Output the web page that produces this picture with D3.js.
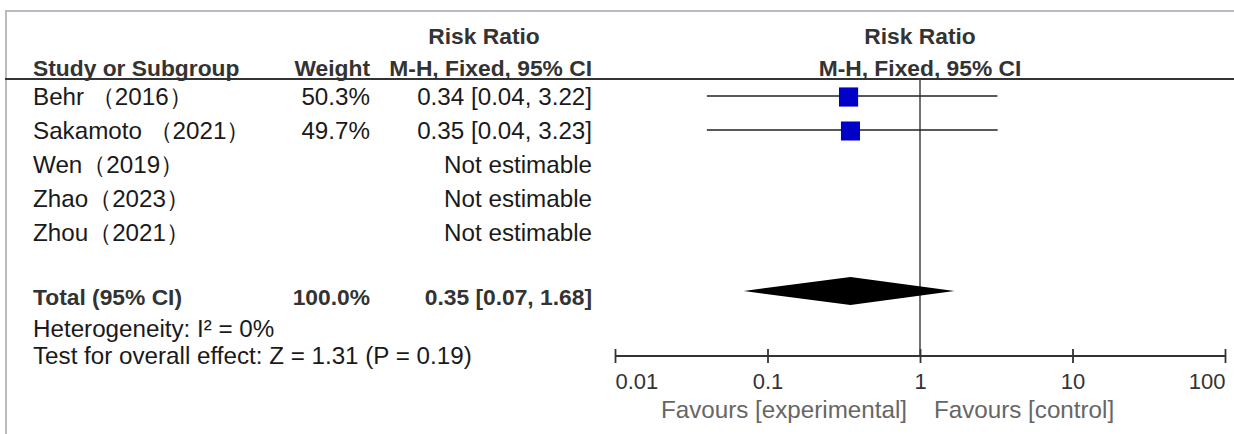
<!DOCTYPE html>
<html>
<head>
<meta charset="utf-8">
<script src="https://cdn.jsdelivr.net/npm/d3@7"></script>
<style>
  body { margin: 0; background: #fff; }
  svg { display: block; font-family: "Liberation Sans", Arial, sans-serif; }
</style>
</head>
<body>
<svg id="forest"></svg>
<script>
// forest plot data
var studies = ["Behr （2016）", "Sakamoto （2021）", "Wen（2019）", "Zhao（2023）", "Zhou（2021）"];
var weights = [50.3, 49.7, null, null, null];
var estimates = [0.34, 0.35, null, null, null];
var lowers = [0.04, 0.04, null, null, null];
var uppers = [3.22, 3.23, null, null, null];

var totalLabel = "Total (95% CI)";
var totalWeight = 100.0;
var totalEst = 0.35, totalLo = 0.07, totalHi = 1.68;
var heterogeneity = "Heterogeneity: I² = 0%";
var overallTest = "Test for overall effect: Z = 1.31 (P = 0.19)";

var tickVals = [0.01, 0.1, 1, 10, 100];
var tickLabels = ["0.01", "0.1", "1", "10", "100"];
var favourLeft = "Favours [experimental]";
var favourRight = "Favours [control]";

var width = 1234, height = 434;
var fs = 24.2, fsBold = 22.8, fsTick = 22;

var svg = d3.select('svg#forest')
    .attr('width', width)
    .attr('height', height);

svg.append('rect').attr('width', width).attr('height', height).attr('fill', '#fff');

// frame
svg.append('line').attr('x1', 5).attr('x2', width).attr('y1', 11).attr('y2', 11)
    .style('stroke', '#b8bcc2').style('stroke-width', 2);
svg.append('line').attr('x1', 6).attr('x2', 6).attr('y1', 11).attr('y2', height)
    .style('stroke', '#b8bcc2').style('stroke-width', 2);

var x = d3.scaleLog().domain([0.01, 100]).range([615, 1225]);
var rowY = d3.scaleLinear().domain([0, 1]).range([97, 131]);

var colName = 33, colWeight = 370, colCI = 592;
var axisY = 356, headerLineY = 79;

function txt(s, xx, yy, anchor, opts){
    opts = opts || {};
    return svg.append('text')
        .attr('x', xx).attr('y', yy).attr('dy', '0.35em')
        .style('text-anchor', anchor)
        .style('font-size', (opts.size || (opts.bold ? fsBold : fs)) + 'px')
        .style('font-weight', opts.bold ? 'bold' : 'normal')
        .style('fill', opts.color || '#1a1a1a')
        .text(s);
}

// headers
txt("Risk Ratio", 484, 36, 'middle', {bold: true, color: '#333'});
txt("Study or Subgroup", colName, 68, 'start', {bold: true, color: '#333'});
txt("Weight", colWeight, 68, 'end', {bold: true, color: '#333'});
txt("M-H, Fixed, 95% CI", colCI, 68, 'end', {bold: true, color: '#333'});
txt("Risk Ratio", x(1), 36, 'middle', {bold: true, color: '#333'});
txt("M-H, Fixed, 95% CI", x(1), 68, 'middle', {bold: true, color: '#333'});

svg.append('line').attr('x1', 5).attr('x2', width).attr('y1', headerLineY).attr('y2', headerLineY)
    .style('stroke', '#333').style('stroke-width', 2);

// line of no effect
svg.append('line').attr('x1', x(1)).attr('x2', x(1)).attr('y1', headerLineY).attr('y2', axisY)
    .style('stroke', '#444').style('stroke-width', 1.5);

// study rows
var rows = studies.map(function(s, i){
    return {name: s, w: weights[i], est: estimates[i], lo: lowers[i], hi: uppers[i], y: rowY(i)};
});

rows.forEach(function(d){
    txt(d.name, colName, d.y, 'start');
    if(d.w !== null) txt(d.w.toFixed(1) + '%', colWeight, d.y, 'end');
    var ci = d.est === null ? 'Not estimable'
        : d.est.toFixed(2) + ' [' + d.lo.toFixed(2) + ', ' + d.hi.toFixed(2) + ']';
    txt(ci, colCI, d.y, 'end');
});

var sq = d3.scaleSqrt().domain([0, 100]).range([0, 27]);
var est = rows.filter(function(d){ return d.est !== null; });

svg.append('g').selectAll('line')
    .data(est).enter().append('line')
    .attr('x1', function(d){ return x(d.lo); })
    .attr('x2', function(d){ return x(d.hi); })
    .attr('y1', function(d){ return d.y - 1; })
    .attr('y2', function(d){ return d.y - 1; })
    .style('stroke', '#222').style('stroke-width', 1.6);

svg.append('g').selectAll('rect')
    .data(est).enter().append('rect')
    .attr('x', function(d){ return x(d.est) - sq(d.w) / 2; })
    .attr('y', function(d){ return d.y - sq(d.w) / 2; })
    .attr('width', function(d){ return sq(d.w); })
    .attr('height', function(d){ return sq(d.w); })
    .style('fill', '#0000c8');

// total
var totalY = 297;
txt(totalLabel, colName, totalY, 'start', {bold: true, color: '#333'});
txt(totalWeight.toFixed(1) + '%', colWeight, totalY, 'end', {bold: true, color: '#333'});
txt(totalEst.toFixed(2) + ' [' + totalLo.toFixed(2) + ', ' + totalHi.toFixed(2) + ']', colCI, totalY, 'end', {bold: true, color: '#333'});

var dy = 291, dh = 14;
svg.append('path')
    .attr('d', d3.line()([
        [x(totalLo), dy], [x(totalEst), dy - dh], [x(totalHi), dy], [x(totalEst), dy + dh]
    ]) + 'Z')
    .style('fill', '#000');

txt(heterogeneity, colName, 329, 'start');
txt(overallTest, colName, 356, 'start');

// axis
var axis = d3.axisBottom(x)
    .tickValues(tickVals)
    .tickFormat(function(d, i){ return tickLabels[i]; })
    .tickSize(7)
    .tickPadding(0);

var ag = svg.append('g')
    .attr('transform', 'translate(0,' + axisY + ')')
    .call(axis);

ag.select('.domain').attr('d', 'M' + x.range()[0] + ',0H' + x.range()[1])
    .style('stroke', '#333').style('stroke-width', 1.8);
ag.selectAll('.tick line').attr('y1', -7).attr('y2', 7)
    .style('stroke', '#333').style('stroke-width', 1.8);
ag.selectAll('.tick text')
    .attr('y', 25).attr('dy', '0.35em')
    .style('font-size', fsTick + 'px')
    .style('font-family', '"Liberation Sans", Arial, sans-serif')
    .style('fill', '#333')
    .style('text-anchor', function(d, i){ return i === 0 ? 'start' : (i === tickVals.length - 1 ? 'end' : 'middle'); });

txt(favourLeft, x(1) - 13, 410, 'end', {color: '#666'});
txt(favourRight, x(1) + 14, 410, 'start', {color: '#666'});
</script>
</body>
</html>
